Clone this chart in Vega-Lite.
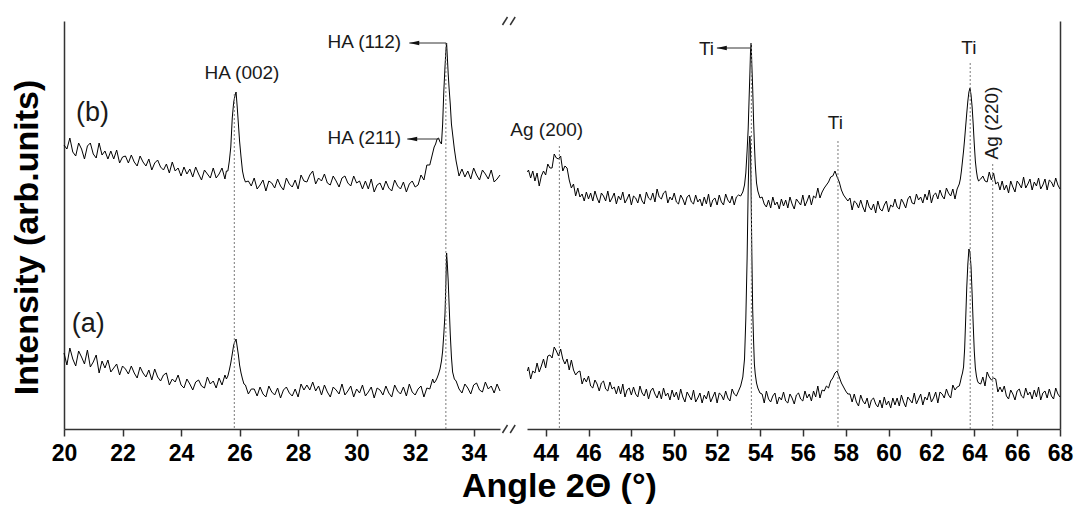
{
  "$schema": "https://vega.github.io/schema/vega-lite/v6.json",
  "background": "white",
  "padding": {"left": 10, "top": 16, "right": 8, "bottom": 5},
  "config": {
    "view": {"stroke": null},
    "font": "Liberation Sans",
    "axis": {"domainColor": "#333333", "domainWidth": 1.5, "tickColor": "#333333", "tickWidth": 1.5, "labelFont": "Liberation Sans", "titleFont": "Liberation Sans", "grid": false},
    "text": {"font": "Liberation Sans", "color": "#1a1a1a"}
  },
  "title": {"text": "Angle 2Θ (°)", "orient": "bottom", "anchor": "middle", "dx": 18, "fontSize": 34, "fontWeight": "bold", "font": "Liberation Sans", "color": "black", "offset": 5},
  "bounds": "flush",
  "spacing": 27,
  "datasets": {
    "L": [
      {"x":20.0,"a":76,"b":284},{"x":20.1,"a":64,"b":280},{"x":20.2,"a":81,"b":291},{"x":20.3,"a":70,"b":277},{"x":20.4,"a":63,"b":273},{"x":20.5,"a":78,"b":286},{"x":20.6,"a":72,"b":280},{"x":20.7,"a":65,"b":270},{"x":20.8,"a":79,"b":283},{"x":20.9,"a":62,"b":286},
      {"x":21.0,"a":67,"b":275},{"x":21.1,"a":74,"b":271},{"x":21.2,"a":56,"b":286},{"x":21.3,"a":68,"b":274},{"x":21.4,"a":61,"b":278},{"x":21.5,"a":69,"b":270},{"x":21.6,"a":57,"b":278},{"x":21.7,"a":61,"b":270},{"x":21.8,"a":65,"b":279},{"x":21.9,"a":54,"b":266},
      {"x":22.0,"a":63,"b":272},{"x":22.1,"a":60,"b":273},{"x":22.2,"a":55,"b":266},{"x":22.3,"a":63,"b":274},{"x":22.4,"a":56,"b":267},{"x":22.5,"a":51,"b":263},{"x":22.6,"a":62,"b":273},{"x":22.7,"a":56,"b":267},{"x":22.8,"a":52,"b":263},{"x":22.9,"a":59,"b":270},
      {"x":23.0,"a":49,"b":259},{"x":23.1,"a":60,"b":266},{"x":23.2,"a":52,"b":269},{"x":23.3,"a":48,"b":262},{"x":23.4,"a":54,"b":259},{"x":23.5,"a":56,"b":265},{"x":23.6,"a":44,"b":256},{"x":23.7,"a":50,"b":267},{"x":23.8,"a":47,"b":258},{"x":23.9,"a":54,"b":261},
      {"x":24.0,"a":44,"b":253},{"x":24.1,"a":41,"b":262},{"x":24.2,"a":50,"b":255},{"x":24.3,"a":45,"b":260},{"x":24.4,"a":39,"b":252},{"x":24.5,"a":47,"b":262},{"x":24.6,"a":49,"b":255},{"x":24.7,"a":43,"b":249},{"x":24.8,"a":41,"b":259},{"x":24.9,"a":52,"b":255},
      {"x":25.0,"a":45,"b":251},{"x":25.1,"a":48,"b":261},{"x":25.2,"a":41,"b":251},{"x":25.3,"a":51,"b":255},{"x":25.4,"a":44,"b":261},{"x":25.5,"a":54,"b":250},{"x":25.55,"a":50,"b":258},{"x":25.6,"a":53,"b":258},{"x":25.65,"a":59,"b":268},{"x":25.7,"a":66,"b":282},
      {"x":25.75,"a":75,"b":311},{"x":25.8,"a":84,"b":327},{"x":25.85,"a":88,"b":334},{"x":25.88,"a":90,"b":337},{"x":25.92,"a":82,"b":322},{"x":25.96,"a":74,"b":305},{"x":26.0,"a":64,"b":288},{"x":26.05,"a":56,"b":272},{"x":26.1,"a":50,"b":258},{"x":26.15,"a":45,"b":251},
      {"x":26.2,"a":44,"b":247},{"x":26.3,"a":35,"b":248},{"x":26.4,"a":40,"b":243},{"x":26.5,"a":40,"b":251},{"x":26.6,"a":33,"b":240},{"x":26.7,"a":42,"b":244},{"x":26.8,"a":35,"b":249},{"x":26.9,"a":32,"b":238},{"x":27.0,"a":43,"b":248},{"x":27.1,"a":37,"b":246},
      {"x":27.2,"a":34,"b":241},{"x":27.3,"a":41,"b":250},{"x":27.4,"a":31,"b":243},{"x":27.5,"a":39,"b":239},{"x":27.6,"a":42,"b":251},{"x":27.7,"a":36,"b":245},{"x":27.8,"a":33,"b":242},{"x":27.9,"a":40,"b":249},{"x":28.0,"a":32,"b":240},{"x":28.1,"a":45,"b":254},
      {"x":28.2,"a":39,"b":248},{"x":28.3,"a":44,"b":247},{"x":28.4,"a":39,"b":254},{"x":28.5,"a":47,"b":258},{"x":28.6,"a":38,"b":245},{"x":28.7,"a":43,"b":251},{"x":28.8,"a":34,"b":248},{"x":28.9,"a":44,"b":255},{"x":29.0,"a":37,"b":246},{"x":29.1,"a":32,"b":244},
      {"x":29.2,"a":42,"b":253},{"x":29.3,"a":39,"b":248},{"x":29.4,"a":35,"b":242},{"x":29.5,"a":45,"b":251},{"x":29.6,"a":34,"b":253},{"x":29.7,"a":38,"b":246},{"x":29.8,"a":43,"b":243},{"x":29.9,"a":32,"b":253},{"x":30.0,"a":40,"b":246},{"x":30.1,"a":36,"b":248},
      {"x":30.2,"a":44,"b":240},{"x":30.3,"a":33,"b":248},{"x":30.4,"a":37,"b":240},{"x":30.5,"a":42,"b":250},{"x":30.6,"a":31,"b":237},{"x":30.7,"a":41,"b":244},{"x":30.8,"a":39,"b":246},{"x":30.9,"a":34,"b":239},{"x":31.0,"a":43,"b":248},{"x":31.1,"a":36,"b":241},
      {"x":31.2,"a":32,"b":238},{"x":31.3,"a":44,"b":249},{"x":31.4,"a":38,"b":243},{"x":31.5,"a":35,"b":240},{"x":31.6,"a":42,"b":247},{"x":31.7,"a":33,"b":237},{"x":31.8,"a":45,"b":245},{"x":31.9,"a":37,"b":248},{"x":32.0,"a":34,"b":242},{"x":32.1,"a":40,"b":244},
      {"x":32.2,"a":43,"b":254},{"x":32.3,"a":32,"b":249},{"x":32.4,"a":41,"b":264},{"x":32.5,"a":40,"b":264},{"x":32.6,"a":50,"b":276},{"x":32.65,"a":46,"b":282},{"x":32.7,"a":48,"b":285},{"x":32.75,"a":51,"b":290},{"x":32.8,"a":55,"b":291},{"x":32.85,"a":60,"b":287},
      {"x":32.9,"a":68,"b":285},{"x":32.94,"a":78,"b":305},{"x":32.98,"a":95,"b":338},{"x":33.02,"a":115,"b":362},{"x":33.05,"a":145,"b":378},{"x":33.075,"a":176,"b":386},{"x":33.1,"a":165,"b":372},{"x":33.13,"a":148,"b":355},{"x":33.16,"a":125,"b":341},{"x":33.2,"a":95,"b":325},
      {"x":33.24,"a":72,"b":305},{"x":33.28,"a":57,"b":295},{"x":33.34,"a":50,"b":280},{"x":33.4,"a":48,"b":268},{"x":33.5,"a":40,"b":253},{"x":33.6,"a":36,"b":260},{"x":33.7,"a":45,"b":252},{"x":33.8,"a":41,"b":258},{"x":33.9,"a":35,"b":250},{"x":34.0,"a":44,"b":261},
      {"x":34.1,"a":46,"b":254},{"x":34.2,"a":39,"b":249},{"x":34.3,"a":37,"b":259},{"x":34.4,"a":47,"b":255},{"x":34.5,"a":40,"b":250},{"x":34.6,"a":43,"b":259},{"x":34.7,"a":36,"b":247},{"x":34.8,"a":45,"b":250},{"x":34.9,"a":38,"b":254}
    ],
    "R": [
      {"x":43.15,"a":58,"b":257},{"x":43.2,"a":62,"b":259},{"x":43.3,"a":50,"b":251},{"x":43.4,"a":58,"b":258},{"x":43.5,"a":56,"b":248},{"x":43.6,"a":66,"b":256},{"x":43.7,"a":57,"b":243},{"x":43.8,"a":63,"b":253},{"x":43.9,"a":70,"b":258},{"x":44.0,"a":61,"b":254},
      {"x":44.1,"a":73,"b":265},{"x":44.2,"a":74,"b":261},{"x":44.3,"a":71,"b":261},{"x":44.4,"a":82,"b":275},{"x":44.5,"a":78,"b":271},{"x":44.6,"a":73,"b":270},{"x":44.7,"a":80,"b":273},{"x":44.8,"a":70,"b":258},{"x":44.9,"a":65,"b":263},{"x":45.0,"a":70,"b":261},
      {"x":45.1,"a":59,"b":249},{"x":45.2,"a":69,"b":241},{"x":45.3,"a":59,"b":245},{"x":45.4,"a":54,"b":233},{"x":45.5,"a":57,"b":241},{"x":45.6,"a":58,"b":232},{"x":45.7,"a":45,"b":235},{"x":45.8,"a":51,"b":228},{"x":45.9,"a":47,"b":237},{"x":46.0,"a":53,"b":230},
      {"x":46.1,"a":43,"b":236},{"x":46.2,"a":41,"b":228},{"x":46.3,"a":49,"b":238},{"x":46.4,"a":45,"b":231},{"x":46.5,"a":38,"b":226},{"x":46.6,"a":46,"b":236},{"x":46.7,"a":48,"b":233},{"x":46.8,"a":40,"b":228},{"x":46.9,"a":38,"b":238},{"x":47.0,"a":47,"b":227},
      {"x":47.1,"a":40,"b":231},{"x":47.2,"a":42,"b":236},{"x":47.3,"a":35,"b":225},{"x":47.4,"a":43,"b":233},{"x":47.5,"a":35,"b":229},{"x":47.6,"a":45,"b":237},{"x":47.7,"a":32,"b":226},{"x":47.8,"a":39,"b":230},{"x":47.9,"a":41,"b":235},{"x":48.0,"a":34,"b":224},
      {"x":48.1,"a":42,"b":233},{"x":48.2,"a":35,"b":231},{"x":48.3,"a":32,"b":226},{"x":48.4,"a":43,"b":235},{"x":48.5,"a":36,"b":228},{"x":48.6,"a":33,"b":225},{"x":48.7,"a":40,"b":237},{"x":48.8,"a":30,"b":231},{"x":48.9,"a":38,"b":229},{"x":49.0,"a":41,"b":236},
      {"x":49.1,"a":35,"b":227},{"x":49.2,"a":31,"b":240},{"x":49.3,"a":38,"b":232},{"x":49.4,"a":30,"b":230},{"x":49.5,"a":41,"b":236},{"x":49.6,"a":33,"b":238},{"x":49.7,"a":36,"b":226},{"x":49.8,"a":29,"b":232},{"x":49.9,"a":39,"b":229},{"x":50.0,"a":32,"b":236},
      {"x":50.1,"a":37,"b":227},{"x":50.2,"a":29,"b":225},{"x":50.3,"a":40,"b":234},{"x":50.4,"a":32,"b":230},{"x":50.5,"a":27,"b":224},{"x":50.6,"a":37,"b":232},{"x":50.7,"a":33,"b":234},{"x":50.8,"a":29,"b":227},{"x":50.9,"a":39,"b":225},{"x":51.0,"a":27,"b":234},
      {"x":51.1,"a":31,"b":227},{"x":51.2,"a":36,"b":230},{"x":51.3,"a":26,"b":223},{"x":51.4,"a":34,"b":232},{"x":51.5,"a":30,"b":225},{"x":51.6,"a":38,"b":235},{"x":51.7,"a":27,"b":222},{"x":51.8,"a":32,"b":229},{"x":51.9,"a":37,"b":231},{"x":52.0,"a":26,"b":224},
      {"x":52.1,"a":36,"b":234},{"x":52.2,"a":34,"b":227},{"x":52.3,"a":29,"b":224},{"x":52.4,"a":38,"b":235},{"x":52.5,"a":31,"b":229},{"x":52.6,"a":28,"b":226},{"x":52.7,"a":40,"b":233},{"x":52.8,"a":35,"b":224},{"x":52.9,"a":33,"b":232},{"x":53.0,"a":38,"b":234},
      {"x":53.1,"a":43,"b":233},{"x":53.2,"a":52,"b":237},{"x":53.28,"a":70,"b":244},{"x":53.34,"a":110,"b":256},{"x":53.4,"a":170,"b":278},{"x":53.45,"a":240,"b":300},{"x":53.5,"a":285,"b":335},{"x":53.53,"a":293,"b":355},{"x":53.56,"a":280,"b":378},{"x":53.59,"a":230,"b":386},
      {"x":53.62,"a":178,"b":365},{"x":53.66,"a":120,"b":341},{"x":53.7,"a":90,"b":310},{"x":53.74,"a":65,"b":285},{"x":53.78,"a":55,"b":265},{"x":53.84,"a":46,"b":246},{"x":53.9,"a":41,"b":238},{"x":54.0,"a":36,"b":231},{"x":54.1,"a":35,"b":232},{"x":54.2,"a":26,"b":225},
      {"x":54.3,"a":38,"b":222},{"x":54.4,"a":30,"b":229},{"x":54.5,"a":27,"b":221},{"x":54.6,"a":33,"b":232},{"x":54.7,"a":36,"b":224},{"x":54.8,"a":25,"b":227},{"x":54.9,"a":32,"b":220},{"x":55.0,"a":29,"b":230},{"x":55.1,"a":37,"b":223},{"x":55.2,"a":28,"b":229},
      {"x":55.3,"a":26,"b":221},{"x":55.4,"a":35,"b":232},{"x":55.5,"a":31,"b":225},{"x":55.6,"a":25,"b":220},{"x":55.7,"a":34,"b":230},{"x":55.8,"a":36,"b":227},{"x":55.9,"a":30,"b":224},{"x":56.0,"a":28,"b":234},{"x":56.1,"a":38,"b":223},{"x":56.2,"a":31,"b":228},
      {"x":56.3,"a":35,"b":234},{"x":56.4,"a":28,"b":224},{"x":56.5,"a":38,"b":233},{"x":56.6,"a":32,"b":231},{"x":56.7,"a":43,"b":241},{"x":56.8,"a":31,"b":231},{"x":56.9,"a":39,"b":237},{"x":57.0,"a":38,"b":241},{"x":57.1,"a":43,"b":244},{"x":57.2,"a":41,"b":247},
      {"x":57.3,"a":48,"b":252},{"x":57.4,"a":51,"b":253},{"x":57.5,"a":56,"b":258},{"x":57.6,"a":58,"b":252},{"x":57.7,"a":52,"b":247},{"x":57.8,"a":46,"b":239},{"x":57.9,"a":42,"b":234},{"x":58.0,"a":38,"b":231},{"x":58.1,"a":35,"b":228},{"x":58.2,"a":35,"b":231},
      {"x":58.3,"a":27,"b":219},{"x":58.4,"a":35,"b":228},{"x":58.5,"a":27,"b":226},{"x":58.6,"a":23,"b":221},{"x":58.7,"a":34,"b":229},{"x":58.8,"a":28,"b":222},{"x":58.9,"a":25,"b":217},{"x":59.0,"a":31,"b":229},{"x":59.1,"a":21,"b":222},{"x":59.2,"a":29,"b":219},
      {"x":59.3,"a":31,"b":225},{"x":59.4,"a":25,"b":216},{"x":59.5,"a":22,"b":228},{"x":59.6,"a":29,"b":220},{"x":59.7,"a":21,"b":218},{"x":59.8,"a":32,"b":224},{"x":59.9,"a":24,"b":228},{"x":60.0,"a":28,"b":217},{"x":60.1,"a":21,"b":224},{"x":60.2,"a":31,"b":222},
      {"x":60.3,"a":24,"b":230},{"x":60.4,"a":31,"b":222},{"x":60.5,"a":23,"b":220},{"x":60.6,"a":34,"b":230},{"x":60.7,"a":27,"b":226},{"x":60.8,"a":22,"b":221},{"x":60.9,"a":32,"b":230},{"x":61.0,"a":29,"b":233},{"x":61.1,"a":26,"b":226},{"x":61.2,"a":36,"b":225},
      {"x":61.3,"a":25,"b":235},{"x":61.4,"a":30,"b":229},{"x":61.5,"a":35,"b":232},{"x":61.6,"a":24,"b":226},{"x":61.7,"a":32,"b":235},{"x":61.8,"a":29,"b":229},{"x":61.9,"a":37,"b":239},{"x":62.0,"a":27,"b":226},{"x":62.1,"a":31,"b":234},{"x":62.2,"a":37,"b":236},
      {"x":62.3,"a":26,"b":230},{"x":62.4,"a":37,"b":239},{"x":62.5,"a":35,"b":233},{"x":62.6,"a":31,"b":230},{"x":62.7,"a":40,"b":241},{"x":62.8,"a":34,"b":236},{"x":62.9,"a":31,"b":233},{"x":63.0,"a":44,"b":240},{"x":63.1,"a":39,"b":230},{"x":63.2,"a":42,"b":240},
      {"x":63.3,"a":43,"b":245},{"x":63.35,"a":47,"b":250},{"x":63.4,"a":52,"b":258},{"x":63.45,"a":56,"b":268},{"x":63.5,"a":62,"b":278},{"x":63.55,"a":80,"b":290},{"x":63.6,"a":110,"b":303},{"x":63.65,"a":142,"b":316},{"x":63.7,"a":165,"b":328},{"x":63.75,"a":180,"b":337},
      {"x":63.8,"a":176,"b":341},{"x":63.85,"a":162,"b":334},{"x":63.9,"a":135,"b":322},{"x":63.95,"a":105,"b":305},{"x":64.0,"a":78,"b":285},{"x":64.05,"a":61,"b":268},{"x":64.1,"a":53,"b":258},{"x":64.15,"a":48,"b":251},{"x":64.2,"a":46,"b":248},{"x":64.3,"a":45,"b":250},
      {"x":64.4,"a":52,"b":253},{"x":64.5,"a":43,"b":248},{"x":64.6,"a":57,"b":247},{"x":64.7,"a":52,"b":257},{"x":64.8,"a":49,"b":249},{"x":64.9,"a":51,"b":256},{"x":65.0,"a":50,"b":245},{"x":65.1,"a":37,"b":247},{"x":65.2,"a":42,"b":239},{"x":65.3,"a":37,"b":248},
      {"x":65.4,"a":43,"b":239},{"x":65.5,"a":33,"b":244},{"x":65.6,"a":30,"b":236},{"x":65.7,"a":39,"b":248},{"x":65.8,"a":35,"b":242},{"x":65.9,"a":29,"b":237},{"x":66.0,"a":38,"b":248},{"x":66.1,"a":40,"b":245},{"x":66.2,"a":33,"b":241},{"x":66.3,"a":31,"b":252},
      {"x":66.4,"a":41,"b":241},{"x":66.5,"a":34,"b":245},{"x":66.6,"a":37,"b":250},{"x":66.7,"a":30,"b":239},{"x":66.8,"a":39,"b":247},{"x":66.9,"a":32,"b":243},{"x":67.0,"a":42,"b":251},{"x":67.1,"a":29,"b":240},{"x":67.2,"a":36,"b":244},{"x":67.3,"a":38,"b":250},
      {"x":67.4,"a":31,"b":239},{"x":67.5,"a":40,"b":249},{"x":67.6,"a":33,"b":247},{"x":67.7,"a":30,"b":242},{"x":67.8,"a":41,"b":251},{"x":67.9,"a":35,"b":244},{"x":68.0,"a":32,"b":240}
    ]
  },
  "hconcat": [
    {
      "width": 436,
      "height": 408,
      "layer": [
        {
          "data": {"name": "L"},
          "mark": {"type": "line", "color": "black", "strokeWidth": 1},
          "encoding": {
            "x": {"field": "x", "type": "quantitative", "scale": {"domain": [20, 34.9], "nice": false, "zero": false},
              "axis": {"values": [20,21,22,23,24,25,26,27,28,29,30,31,32,33,34], "labelExpr": "datum.value % 2 === 0 ? datum.label : ''", "tickSize": {"condition": {"test": "datum.value % 2 === 0", "value": 7}, "value": 4}, "labelFontSize": 23, "labelFontWeight": "bold", "labelColor": "black", "labelPadding": 6, "labelFlush": false, "labelOverlap": false, "title": null}},
            "y": {"field": "a", "type": "quantitative", "scale": {"domain": [0, 408], "nice": false},
              "axis": {"orient": "left", "ticks": false, "labels": false, "title": "Intensity (arb.units)", "titleFontSize": 34, "titleFontWeight": "bold", "titleColor": "black", "titlePadding": 20, "titleY": 216}}
          }
        },
        {
          "data": {"name": "L"},
          "mark": {"type": "line", "color": "black", "strokeWidth": 1},
          "encoding": {
            "x": {"field": "x", "type": "quantitative", "scale": {"domain": [20, 34.9], "nice": false, "zero": false}},
            "y": {"field": "b", "type": "quantitative", "scale": {"domain": [0, 408], "nice": false}}
          }
        },
        {
          "data": {"values": [{"x": 25.82, "top": 335}, {"x": 33.05, "top": 386}]},
          "mark": {"type": "rule", "color": "#7a7a7a", "strokeWidth": 1, "strokeDash": [2, 2]},
          "encoding": {
            "x": {"field": "x", "type": "quantitative", "scale": {"domain": [20, 34.9], "nice": false, "zero": false}},
            "y": {"field": "top", "type": "quantitative", "scale": {"domain": [0, 408], "nice": false}},
            "y2": {"datum": 0}
          }
        },
        {
          "data": {"values": [{"x": 33.06, "x2": 31.8, "y": 386}, {"x": 32.82, "x2": 31.73, "y": 290}]},
          "mark": {"type": "rule", "color": "#333333", "strokeWidth": 1},
          "encoding": {
            "x": {"field": "x", "type": "quantitative", "scale": {"domain": [20, 34.9], "nice": false, "zero": false}},
            "x2": {"field": "x2"},
            "y": {"field": "y", "type": "quantitative", "scale": {"domain": [0, 408], "nice": false}}
          }
        },
        {
          "data": {"values": [{"h": 31.97, "y": 386}, {"h": 31.9, "y": 290}]},
          "mark": {"type": "point", "shape": "M -1 0 L 1 -0.45 L 1 0.45 Z", "filled": true, "color": "#111111", "opacity": 1, "size": 100},
          "encoding": {
            "x": {"field": "h", "type": "quantitative", "scale": {"domain": [20, 34.9], "nice": false, "zero": false}},
            "y": {"field": "y", "type": "quantitative", "scale": {"domain": [0, 408], "nice": false}}
          }
        },
        {
          "data": {"values": [{"x": 26.08, "y": 350, "t": "HA (002)"}]},
          "mark": {"type": "text", "fontSize": 19, "align": "center", "baseline": "alphabetic"},
          "encoding": {
            "x": {"field": "x", "type": "quantitative", "scale": {"domain": [20, 34.9], "nice": false, "zero": false}},
            "y": {"field": "y", "type": "quantitative", "scale": {"domain": [0, 408], "nice": false}},
            "text": {"field": "t"}
          }
        },
        {
          "data": {"values": [{"x": 31.52, "y": 381, "t": "HA (112)"}, {"x": 31.52, "y": 285, "t": "HA (211)"}]},
          "mark": {"type": "text", "fontSize": 19, "align": "right", "baseline": "alphabetic"},
          "encoding": {
            "x": {"field": "x", "type": "quantitative", "scale": {"domain": [20, 34.9], "nice": false, "zero": false}},
            "y": {"field": "y", "type": "quantitative", "scale": {"domain": [0, 408], "nice": false}},
            "text": {"field": "t"}
          }
        },
        {
          "data": {"values": [{"x": 20.97, "y": 308, "t": "(b)"}, {"x": 20.83, "y": 97, "t": "(a)"}]},
          "mark": {"type": "text", "fontSize": 27, "align": "center", "baseline": "alphabetic"},
          "encoding": {
            "x": {"field": "x", "type": "quantitative", "scale": {"domain": [20, 34.9], "nice": false, "zero": false}},
            "y": {"field": "y", "type": "quantitative", "scale": {"domain": [0, 408], "nice": false}},
            "text": {"field": "t"}
          }
        },
        {
          "mark": {"type": "rule", "color": "#333333", "strokeWidth": 1.5},
          "encoding": {"y": {"datum": 408, "type": "quantitative", "scale": {"domain": [0, 408], "nice": false}}}
        },
        {
          "data": {"values": [{"x": 34.985, "x2": 35.156, "y": 404, "y2": 412}, {"x": 35.248, "x2": 35.419, "y": 404, "y2": 412}, {"x": 34.985, "x2": 35.156, "y": -4, "y2": 4}, {"x": 35.248, "x2": 35.419, "y": -4, "y2": 4}]},
          "mark": {"type": "rule", "color": "#333333", "strokeWidth": 1.5},
          "encoding": {
            "x": {"field": "x", "type": "quantitative", "scale": {"domain": [20, 34.9], "nice": false, "zero": false}},
            "x2": {"field": "x2"},
            "y": {"field": "y", "type": "quantitative", "scale": {"domain": [0, 408], "nice": false}},
            "y2": {"field": "y2"}
          }
        }
      ]
    },
    {
      "width": 533,
      "height": 408,
      "layer": [
        {
          "data": {"name": "R"},
          "mark": {"type": "line", "color": "black", "strokeWidth": 1},
          "encoding": {
            "x": {"field": "x", "type": "quantitative", "scale": {"domain": [43.13, 68], "nice": false, "zero": false},
              "axis": {"values": [44,45,46,47,48,49,50,51,52,53,54,55,56,57,58,59,60,61,62,63,64,65,66,67,68], "labelExpr": "datum.value % 2 === 0 ? datum.label : ''", "tickSize": {"condition": {"test": "datum.value % 2 === 0", "value": 7}, "value": 4}, "labelFontSize": 23, "labelFontWeight": "bold", "labelColor": "black", "labelPadding": 6, "labelFlush": false, "labelOverlap": false, "title": null}},
            "y": {"field": "a", "type": "quantitative", "scale": {"domain": [0, 408], "nice": false},
              "axis": {"orient": "right", "ticks": false, "labels": false, "title": null}}
          }
        },
        {
          "data": {"name": "R"},
          "mark": {"type": "line", "color": "black", "strokeWidth": 1},
          "encoding": {
            "x": {"field": "x", "type": "quantitative", "scale": {"domain": [43.13, 68], "nice": false, "zero": false}},
            "y": {"field": "b", "type": "quantitative", "scale": {"domain": [0, 408], "nice": false}}
          }
        },
        {
          "data": {"values": [{"x": 44.64, "top": 283}, {"x": 53.6, "top": 386}, {"x": 57.64, "top": 288}, {"x": 63.81, "top": 366}, {"x": 64.86, "top": 265}]},
          "mark": {"type": "rule", "color": "#7a7a7a", "strokeWidth": 1, "strokeDash": [2, 2]},
          "encoding": {
            "x": {"field": "x", "type": "quantitative", "scale": {"domain": [43.13, 68], "nice": false, "zero": false}},
            "y": {"field": "top", "type": "quantitative", "scale": {"domain": [0, 408], "nice": false}},
            "y2": {"datum": 0}
          }
        },
        {
          "data": {"values": [{"x": 53.58, "x2": 51.99, "y": 381}]},
          "mark": {"type": "rule", "color": "#333333", "strokeWidth": 1},
          "encoding": {
            "x": {"field": "x", "type": "quantitative", "scale": {"domain": [43.13, 68], "nice": false, "zero": false}},
            "x2": {"field": "x2"},
            "y": {"field": "y", "type": "quantitative", "scale": {"domain": [0, 408], "nice": false}}
          }
        },
        {
          "data": {"values": [{"h": 52.22, "y": 381}]},
          "mark": {"type": "point", "shape": "M -1 0 L 1 -0.45 L 1 0.45 Z", "filled": true, "color": "#111111", "opacity": 1, "size": 100},
          "encoding": {
            "x": {"field": "h", "type": "quantitative", "scale": {"domain": [43.13, 68], "nice": false, "zero": false}},
            "y": {"field": "y", "type": "quantitative", "scale": {"domain": [0, 408], "nice": false}}
          }
        },
        {
          "data": {"values": [{"x": 44.05, "y": 293, "t": "Ag (200)"}, {"x": 57.52, "y": 300, "t": "Ti"}, {"x": 63.75, "y": 375, "t": "Ti"}]},
          "mark": {"type": "text", "fontSize": 19, "align": "center", "baseline": "alphabetic"},
          "encoding": {
            "x": {"field": "x", "type": "quantitative", "scale": {"domain": [43.13, 68], "nice": false, "zero": false}},
            "y": {"field": "y", "type": "quantitative", "scale": {"domain": [0, 408], "nice": false}},
            "text": {"field": "t"}
          }
        },
        {
          "data": {"values": [{"x": 51.86, "y": 374, "t": "Ti"}]},
          "mark": {"type": "text", "fontSize": 19, "align": "right", "baseline": "alphabetic"},
          "encoding": {
            "x": {"field": "x", "type": "quantitative", "scale": {"domain": [43.13, 68], "nice": false, "zero": false}},
            "y": {"field": "y", "type": "quantitative", "scale": {"domain": [0, 408], "nice": false}},
            "text": {"field": "t"}
          }
        },
        {
          "data": {"values": [{"x": 65.12, "y": 306, "t": "Ag (220)"}]},
          "mark": {"type": "text", "fontSize": 19, "align": "center", "baseline": "alphabetic", "angle": 270},
          "encoding": {
            "x": {"field": "x", "type": "quantitative", "scale": {"domain": [43.13, 68], "nice": false, "zero": false}},
            "y": {"field": "y", "type": "quantitative", "scale": {"domain": [0, 408], "nice": false}},
            "text": {"field": "t"}
          }
        },
        {
          "mark": {"type": "rule", "color": "#333333", "strokeWidth": 1.5},
          "encoding": {"y": {"datum": 408, "type": "quantitative", "scale": {"domain": [0, 408], "nice": false}}}
        }
      ]
    }
  ]
}
